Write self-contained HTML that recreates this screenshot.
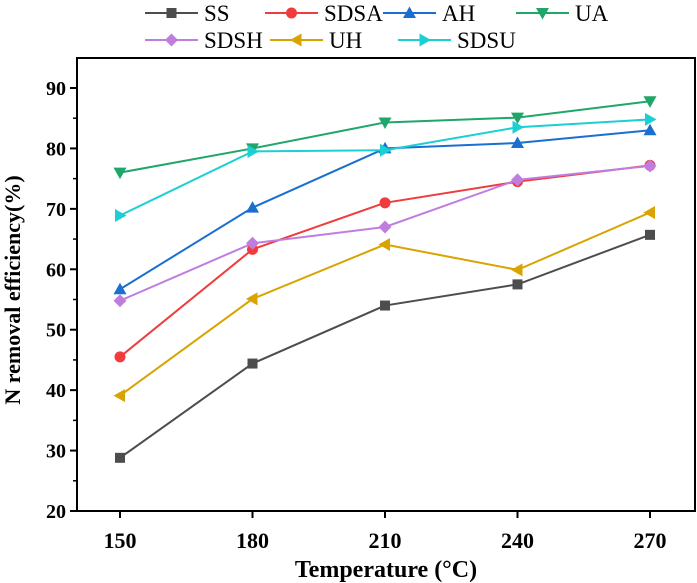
<!DOCTYPE html>
<html><head><meta charset="utf-8"><style>
body{margin:0;background:#fff}
svg{display:block;font-family:"Liberation Serif",serif}
</style></head><body>
<svg id="chart" width="697" height="583" viewBox="0 0 697 583" xmlns="http://www.w3.org/2000/svg"></svg>
<script>
const categories=[150,180,210,240,270];
const yTicks=[20,30,40,50,60,70,80,90];
const seriesNames=["SS","SDSA","AH","UA","SDSH","UH","SDSU"];
const ss=[28.8,44.4,54,57.5,65.7];
const sdsa=[45.5,63.3,71,74.5,77.2];
const ah=[56.7,70.2,80,80.9,83];
const ua=[76,80,84.3,85.1,87.8];
const sdsh=[54.8,64.3,67,74.8,77.1];
const uh=[39.1,55.1,64.1,59.9,69.4];
const sdsu=[68.9,79.5,79.7,83.5,84.8];
const seriesValues=[ss,sdsa,ah,ua,sdsh,uh,sdsu];
const colors=["#4d4d4d","#f03c3c","#1a6fd0","#1fa66a","#c07de0","#d9a300","#1ccfd3"];
const markers=["square","circle","up","down","diamond","left","right"];

const NS="http://www.w3.org/2000/svg";
const svg=document.getElementById('chart');
const L=77,R=695,T=58,B=511;
const X=v=>120+(v-150)*(650-120)/120;
const Y=v=>B-(v-20)*(B-88)/70;
function el(t,a,p){const e=document.createElementNS(NS,t);for(const k in a)e.setAttribute(k,a[k]);(p||svg).appendChild(e);return e;}
function marker(type,x,y,c,g){
  let e;
  if(type==="square")e=el('rect',{x:x-5,y:y-5,width:10,height:10,fill:c},g);
  else if(type==="circle")e=el('circle',{cx:x,cy:y,r:5.5,fill:c},g);
  else{let p;
    if(type==="up")p=[[x,y-6.5],[x+6.5,y+5],[x-6.5,y+5]];
    if(type==="down")p=[[x,y+6.5],[x+6.5,y-5],[x-6.5,y-5]];
    if(type==="left")p=[[x-6.5,y],[x+5,y-6.5],[x+5,y+6.5]];
    if(type==="right")p=[[x+6.5,y],[x-5,y-6.5],[x-5,y+6.5]];
    if(type==="diamond")p=[[x,y-6.5],[x+6.5,y],[x,y+6.5],[x-6.5,y]];
    e=el('polygon',{points:p.map(q=>q.join(',')).join(' '),fill:c},g);}
  return e;
}
const frame=el('rect',{x:L,y:T,width:R-L,height:B-T,fill:'none',stroke:'#000','stroke-width':2});


yTicks.forEach(v=>{
  const t=el('line',{x1:L-7,x2:L,y1:Y(v),y2:Y(v),stroke:'#000','stroke-width':2});
  
  
  if(v<90){const m=el('line',{x1:L-4,x2:L,y1:Y(v+5),y2:Y(v+5),stroke:'#000','stroke-width':1.5});
    
    }
  const tx=el('text',{x:L-11,y:Y(v)+7,'text-anchor':'end','font-size':20,'font-weight':'bold'});
  tx.textContent=v;
  
  
});
categories.forEach(c=>{
  const t=el('line',{x1:X(c),x2:X(c),y1:B,y2:B+7,stroke:'#000','stroke-width':2});
  
  
  const tx=el('text',{x:X(c),y:B+37,'text-anchor':'middle','font-size':22,'font-weight':'bold'});
  tx.textContent=c;
  
  
});
const xt=el('text',{x:386,y:577,'text-anchor':'middle','font-size':24,'font-weight':'bold'});
xt.textContent='Temperature (°C)';


const yt=el('text',{x:0,y:0,'text-anchor':'middle','font-size':22,'font-weight':'bold',transform:'translate(20,290) rotate(-90)'});
yt.textContent='N removal efficiency(%)';


seriesValues.forEach((vals,i)=>{
  const g=el('g',{});
  
  
  const pl=el('polyline',{points:vals.map((v,j)=>X(categories[j])+','+Y(v)).join(' '),fill:'none',stroke:colors[i],'stroke-width':2},g);
  
  
  vals.forEach((v,j)=>{
    const m=marker(markers[i],X(categories[j]),Y(v),colors[i],g);
    
    
  });
});
const legPos=[[145,13],[265,13],[383,13],[516,13],[145,40],[270,40],[398,40]];
seriesNames.forEach((n,i)=>{
  const [lx,ly]=legPos[i];
  const g=el('g',{});
  
  
  el('line',{x1:lx,x2:lx+53,y1:ly,y2:ly,stroke:colors[i],'stroke-width':2},g);
  marker(markers[i],lx+26.5,ly,colors[i],g);
  const t=el('text',{x:lx+59,y:ly+8,'font-size':23},g);
  t.textContent=n;
});
</script>
</body></html>
